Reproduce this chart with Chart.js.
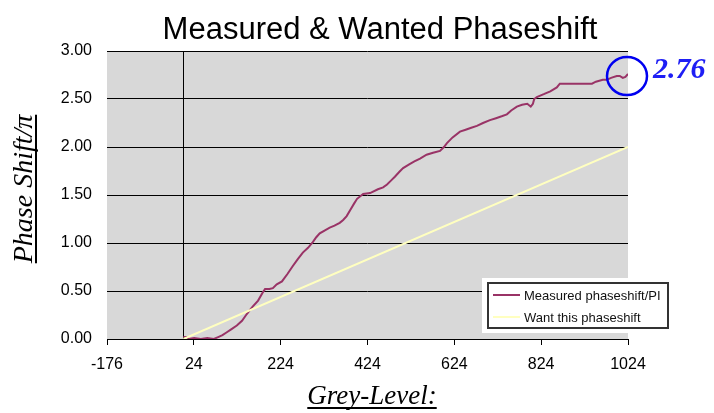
<!DOCTYPE html>
<html lang="en">
<head>
  <meta charset="UTF-8">
  <script src="https://cdn.jsdelivr.net/npm/chart.js"></script>
  <title>Measured &amp; Wanted Phaseshift</title>
  <style>
    body { margin: 0; background: #ffffff; }
    #wrap { width: 714px; height: 413px; }
  </style>
</head>
<body>
  <div id="wrap">
    <canvas id="grafico" width="714" height="413"></canvas>
  </div>
<script>
  // grey level -> measured phase shift (in units of pi)
  var measuredX = [0, 8, 12, 25, 40, 55, 70, 80, 90, 100, 110, 123, 135, 146, 153, 160, 172, 182, 188, 198,
    206, 215, 227, 240, 252, 263, 275, 287, 298, 306, 314, 325, 337, 348, 360, 368, 376, 385, 393, 400,
    414, 430, 448, 460, 469, 478, 487, 497, 506, 520, 532, 545, 560, 575, 591, 600, 607, 620, 637, 650,
    663, 676, 690, 706, 720, 733, 745, 755, 768, 780, 792, 800, 805, 808, 814, 830, 845, 860, 867, 880,
    900, 920, 941, 950, 966, 975, 985, 998, 1005, 1012, 1018, 1024]
  var measuredY = [0.02, 0.02, 0.00, 0.01, 0.00, 0.01, 0.00, 0.02, 0.04, 0.07, 0.10, 0.14, 0.19, 0.26, 0.30, 0.34, 0.40, 0.48, 0.52, 0.52,
    0.53, 0.57, 0.60, 0.68, 0.76, 0.83, 0.90, 0.95, 1.01, 1.06, 1.10, 1.13, 1.16, 1.18, 1.21, 1.24, 1.28, 1.35, 1.41, 1.46,
    1.51, 1.52, 1.56, 1.58, 1.61, 1.65, 1.69, 1.74, 1.78, 1.82, 1.85, 1.88, 1.92, 1.94, 1.96, 2.00, 2.04, 2.10, 2.16, 2.18,
    2.20, 2.22, 2.25, 2.28, 2.30, 2.32, 2.34, 2.38, 2.42, 2.44, 2.45, 2.42, 2.45, 2.50, 2.52, 2.55, 2.58, 2.62, 2.66, 2.66,
    2.66, 2.66, 2.66, 2.68, 2.70, 2.70, 2.72, 2.74, 2.74, 2.72, 2.73, 2.76]

  // ideal linear response
  var wantX = [0, 1024]
  var wantY = [0, 2]

  var xTicks = [-176, 24, 224, 424, 624, 824, 1024]
  var yTicks = [0, 0.5, 1, 1.5, 2, 2.5, 3]

  var seriesNames = ['Measured phaseshift/PI', 'Want this phaseshift']
  var seriesColors = ['#993366', '#FFFFC0']

  function toPoints(xs, ys) {
    var pts = []
    for (let i = 0; i < xs.length; i++) {
      pts.push({ x: xs[i], y: ys[i] })
    }
    return pts
  }

  var SANS = '"Liberation Sans", Arial, sans-serif'
  var SERIF = '"Liberation Serif", "Times New Roman", serif'
  Chart.defaults.font.family = SANS

  // gray plot background + y axis line at x = 0
  var fundoPlot = {
    id: 'fundoPlot',
    beforeDraw(chart) {
      var a = chart.chartArea
      var ctx = chart.ctx
      ctx.save()
      ctx.fillStyle = '#D8D8D8'
      ctx.fillRect(a.left, a.top, a.right - a.left, a.bottom - a.top)
      ctx.restore()
    },
    beforeDatasetsDraw(chart) {
      var a = chart.chartArea
      var ctx = chart.ctx
      var x0 = Math.round(chart.scales.x.getPixelForValue(0)) + 0.5
      ctx.save()
      ctx.strokeStyle = '#000'
      ctx.lineWidth = 1
      ctx.beginPath()
      ctx.moveTo(x0, a.top)
      ctx.lineTo(x0, a.bottom)
      ctx.stroke()
      ctx.restore()
    }
  }

  // titles, legend box and the marked end value
  var textos = {
    id: 'textos',
    afterDraw(chart) {
      var ctx = chart.ctx
      var a = chart.chartArea
      ctx.save()

      // title
      ctx.fillStyle = '#000'
      ctx.font = '31px ' + SANS
      ctx.textAlign = 'center'
      ctx.textBaseline = 'alphabetic'
      ctx.fillText('Measured & Wanted Phaseshift', 380, 39)

      // x axis title, underlined
      ctx.font = 'italic 27px ' + SERIF
      var tx = 'Grey-Level:'
      var w = ctx.measureText(tx).width
      var cx = 372
      ctx.fillText(tx, cx, 404)
      ctx.fillRect(cx - w / 2, 407, w, 2)

      // y axis title, rotated and underlined
      ctx.save()
      ctx.translate(32, 189)
      ctx.rotate(-Math.PI / 2)
      ctx.font = 'italic 28px ' + SERIF
      var ty = 'Phase Shift/\u03C0'
      var wy = ctx.measureText(ty).width
      ctx.fillText(ty, 0, 0)
      ctx.fillRect(-wy / 2, 3, wy, 2)
      ctx.restore()

      // legend
      ctx.fillStyle = '#fff'
      ctx.fillRect(482, 278, a.right - 482, 55)
      ctx.fillRect(488, 283, 180, 45)
      ctx.strokeStyle = '#333'
      ctx.lineWidth = 2
      ctx.strokeRect(488, 283, 180, 45)
      ctx.font = '13px ' + SANS
      ctx.textAlign = 'left'
      ctx.textBaseline = 'middle'
      var rows = [295, 317]
      for (let i = 0; i < seriesNames.length; i++) {
        ctx.strokeStyle = seriesColors[i]
        ctx.lineWidth = 2
        ctx.beginPath()
        ctx.moveTo(493, rows[i])
        ctx.lineTo(520, rows[i])
        ctx.stroke()
        ctx.fillStyle = '#111'
        ctx.fillText(seriesNames[i], 524, rows[i] + 1)
      }

      // circle round the last measured point with its value
      var meta = chart.getDatasetMeta(0)
      var last = meta.data[meta.data.length - 1]
      ctx.strokeStyle = '#0000F0'
      ctx.lineWidth = 2.5
      ctx.beginPath()
      ctx.ellipse(last.x - 1, last.y + 2, 20, 19, 0, 0, Math.PI * 2)
      ctx.stroke()
      ctx.fillStyle = '#1E1EF5'
      ctx.font = 'bold italic 30px ' + SERIF
      ctx.textAlign = 'left'
      ctx.textBaseline = 'alphabetic'
      ctx.fillText(measuredY[measuredY.length - 1].toFixed(2), last.x + 25, last.y + 4)

      ctx.restore()
    }
  }

  var data = {
    datasets: [{
      label: seriesNames[0],
      data: toPoints(measuredX, measuredY),
      borderColor: seriesColors[0],
      borderWidth: 2,
      pointRadius: 0,
      tension: 0,
      order: 1
    }, {
      label: seriesNames[1],
      data: toPoints(wantX, wantY),
      borderColor: seriesColors[1],
      borderWidth: 2,
      pointRadius: 0,
      tension: 0,
      order: 0
    }]
  }

  var config = {
    type: 'line',
    data: data,
    plugins: [fundoPlot, textos],
    options: {
      responsive: false,
      animation: false,
      layout: { padding: { top: 51, right: 86, left: 0, bottom: 0 } },
      plugins: {
        legend: { display: false },
        title: { display: false },
        tooltip: { enabled: false }
      },
      scales: {
        x: {
          type: 'linear',
          min: -176,
          max: 1024,
          afterBuildTicks(scale) {
            scale.ticks = xTicks.map(v => ({ value: v }))
          },
          afterFit(scale) { scale.height = 74 },
          grid: { drawOnChartArea: false, drawTicks: true, tickLength: 6, color: '#000' },
          border: { display: true, color: '#000', width: 1 },
          ticks: {
            color: '#000',
            font: { size: 16 },
            padding: 10,
            maxRotation: 0,
            autoSkip: false,
            callback: v => String(v)
          }
        },
        y: {
          min: 0,
          max: 3,
          afterBuildTicks(scale) {
            scale.ticks = yTicks.map(v => ({ value: v }))
          },
          afterFit(scale) { scale.width = 107 },
          grid: { color: '#000', lineWidth: 1, drawTicks: false },
          border: { display: false },
          ticks: {
            color: '#000',
            font: { size: 16 },
            padding: 15,
            callback: v => Number(v).toFixed(2)
          }
        }
      }
    }
  }

  new Chart(document.getElementById('grafico'), config)
</script>
</body>
</html>
